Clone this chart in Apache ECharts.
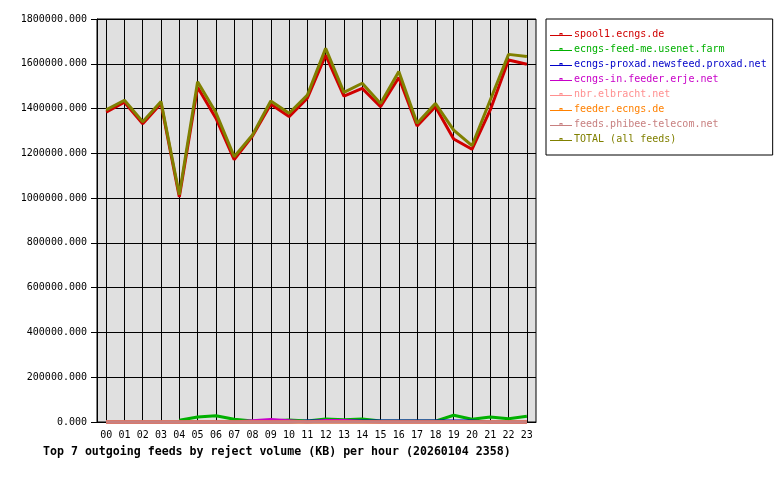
<!DOCTYPE html>
<html>
<head>
<meta charset="utf-8">
<script src="https://cdn.jsdelivr.net/npm/echarts@6/dist/echarts.min.js"></script>
<style>html,body{margin:0;padding:0;background:#fff}#c{width:780px;height:480px}</style>
</head>
<body>
<div id="c"></div>
<script>
const hours = ['00','01','02','03','04','05','06','07','08','09','10','11','12','13','14','15','16','17','18','19','20','21','22','23'];
const seriesNames = ['spool1.ecngs.de','ecngs-feed-me.usenet.farm','ecngs-proxad.newsfeed.proxad.net','ecngs-in.feeder.erje.net','nbr.elbracht.net','feeder.ecngs.de','feeds.phibee-telecom.net','TOTAL (all feeds)'];
const spool1 = [1384000,1428000,1332000,1423000,1005000,1495000,1357000,1172000,1277000,1419000,1364000,1446000,1639000,1456000,1490000,1408000,1539000,1322000,1408000,1264000,1218000,1394000,1617000,1598000];
const feedMe = [null,null,null,null,8000,22000,28000,12000,5000,5000,9000,5000,13000,10000,13000,5000,4000,4000,4000,30000,12000,22000,15000,26000];
const proxad = [0,0,0,0,0,0,0,0,0,0,0,5000,5000,5000,5000,5000,5000,5000,5000,5000,5000,0,0,0];
const erje = [0,0,0,0,0,0,0,0,6000,11000,6000,0,7000,7000,2000,0,0,0,0,0,0,0,0,0];
const elbracht = [0,0,0,0,0,0,0,0,0,0,0,0,0,0,0,0,0,0,0,0,0,0,0,0];
const feederEcngs = [0,0,0,0,0,0,0,0,0,0,0,0,0,0,0,0,0,0,0,0,0,0,0,0];
const phibee = [0,0,0,0,0,0,0,0,0,0,0,0,0,0,0,0,0,0,0,0,0,0,0,0];
const total = [1394000,1437000,1341000,1431000,1015000,1520000,1382000,1185000,1282000,1434000,1379000,1460000,1669000,1472000,1513000,1423000,1565000,1334000,1423000,1304000,1234000,1438000,1642000,1632000];
const colors = ['#d00000','#00b000','#0000c8','#c800c8','#ff9090','#ff8000','#c88080','#808000'];
const allData = [spool1, feedMe, proxad, erje, elbracht, feederEcngs, phibee, total];
const titleText = 'Top 7 outgoing feeds by reject volume (KB) per hour (20260104 2358)';

const mono = 'DejaVu Sans Mono';
// legend glyph: thin line with a tiny hollow marker; tiny corner dots fix the bounding box
const legendIcon = 'path://M0 0H0.01V0.01H0Z M21.99 11.99H22V12H21.99Z M0 7H22V8H0Z M9.5 5H12.5V6H9.5Z M9.5 5H10.5V8H9.5Z M11.5 5H12.5V8H11.5Z';
const chart = echarts.init(document.getElementById('c'), null, {renderer: 'canvas'});
chart.setOption({
  animation: false,
  backgroundColor: '#ffffff',
  title: {
    text: titleText, left: 43, top: 446, padding: 0,
    textStyle: {fontFamily: mono, fontWeight: 'bold', fontSize: 11.6, color: '#000'}
  },
  grid: {
    left: 97, top: 19, right: 244, bottom: 58,
    show: true, backgroundColor: '#e0e0e0', borderColor: '#000', borderWidth: 1
  },
  legend: {
    orient: 'vertical', left: 546, top: 19, width: 228,
    padding: [9, 6, 10, 4],
    borderColor: '#000', borderWidth: 1,
    itemWidth: 22, itemHeight: 12, itemGap: 3,
    textStyle: {fontFamily: mono, fontSize: 10, padding: [0,0,0,-3]},
    data: seriesNames.map((n, i) => ({name: n, icon: legendIcon, textStyle: {color: colors[i]}}))
  },
  xAxis: {
    type: 'category', data: hours, boundaryGap: true,
    axisLine: {lineStyle: {color: '#000', width: 1}},
    axisTick: {alignWithLabel: true, length: 5, lineStyle: {color: '#000'}},
    splitLine: {show: true, alignWithLabel: true, lineStyle: {color: '#000', width: 1}},
    axisLabel: {fontFamily: mono, fontSize: 10, color: '#000', margin: 8, interval: 0}
  },
  yAxis: {
    type: 'value', min: 0, max: 1800000, interval: 200000,
    axisLine: {show: true, lineStyle: {color: '#000'}},
    axisTick: {show: true, length: 6, lineStyle: {color: '#000'}},
    splitLine: {show: true, lineStyle: {color: '#000', width: 1}},
    axisLabel: {fontFamily: mono, fontSize: 10, color: '#000', margin: 10,
      formatter: v => v.toFixed(3)}
  },
  series: seriesNames.map((n, i) => ({
    name: n, type: 'line', data: allData[i],
    symbol: 'emptyRect', symbolSize: 4, showSymbol: false,
    clip: false, connectNulls: false,
    lineStyle: {color: colors[i], width: 3},
    itemStyle: {color: colors[i]},
    emphasis: {disabled: true}
  }))
});
</script>
</body>
</html>
